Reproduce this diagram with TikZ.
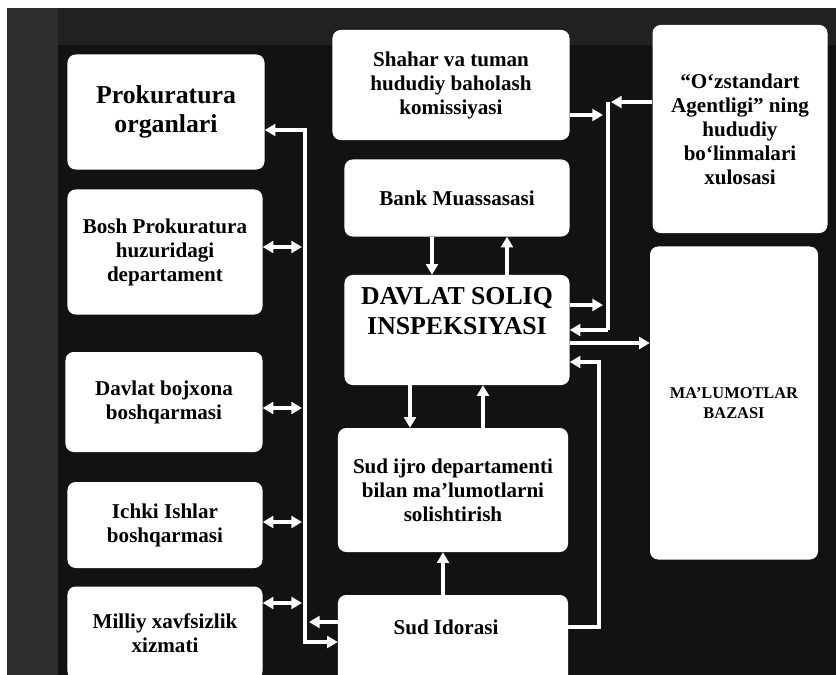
\documentclass[tikz,border=0pt]{standalone}
\usepackage{fontspec}
\setmainfont{Liberation Serif}
\usetikzlibrary{arrows.meta}

\begin{document}
\begin{tikzpicture}[x=0.03cm,y=-0.03cm,
    yozuv/.style={align=center,font=\bfseries\fontsize{18}{20.5}\selectfont},
    katta/.style={font=\bfseries\fontsize{22}{25}\selectfont},
    blok/.style={yozuv,fill=white,rounded corners=7pt,inner sep=0pt},
    oq/.style={draw=white,line width=2.6pt},
    uch/.style={oq,-{Triangle[length=9pt,width=10pt]}},
    ikki/.style={oq,{Triangle[length=9pt,width=10pt]}-{Triangle[length=9pt,width=10pt]}}]
    \useasboundingbox (0,0) rectangle (836,675);

    % fon
    \fill[black!93] (7,8) rectangle (836,675);
    \fill[black!82] (7,8) rectangle (58,675);
    \fill[black!87] (58,8) rectangle (836,45);

    % chap ustun
    \node[blok,katta,minimum width=5.91cm,minimum height=3.45cm] (prok) at (166,112) {Prokuratura\\organlari};
    \node[blok,minimum width=5.85cm,minimum height=3.75cm] (bosh) at (165,252) {Bosh Prokuratura\\huzuridagi\\departament};
    \node[blok,minimum width=5.91cm,minimum height=3.0cm] (bojx) at (164,402) {Davlat bojxona\\boshqarmasi};
    \node[blok,minimum width=5.85cm,minimum height=2.58cm] (ichki) at (165,525) {Ichki Ishlar\\boshqarmasi};
    \node[blok,minimum width=5.85cm,minimum height=2.79cm] (milliy) at (165,633) {Milliy xavfsizlik\\xizmati};

    % o'rta ustun
    \node[blok,minimum width=7.11cm,minimum height=3.3cm] (shahar) at (451,85) {Shahar va tuman\\hududiy baholash\\komissiyasi};
    \node[blok,minimum width=6.75cm,minimum height=2.31cm] (bank) at (457,198) {Bank Muassasasi};
    \node[blok,minimum width=6.75cm,minimum height=3.3cm] (dsi) at (457,330) {};
    \node[katta,align=center] (dsitxt) at (457,311) {DAVLAT SOLIQ\\INSPEKSIYASI};
    \node[blok,minimum width=6.9cm,minimum height=3.72cm] (sudijro) at (453,490) {Sud ijro departamenti\\bilan ma'lumotlarni\\solishtirish};
    \node[blok,minimum width=6.9cm,minimum height=2.7cm] (sud) at (453,640) {};
    \node[yozuv] (sudtxt) at (446,627) {Sud Idorasi};

    % o'ng ustun
    \node[blok,minimum width=5.25cm,minimum height=6.24cm] (ozst) at (740,129) {“O‘zstandart\\Agentligi” ning\\hududiy\\bo‘linmalari\\xulosasi};
    \node[blok,font=\bfseries\fontsize{14}{17}\selectfont,minimum width=5.04cm,minimum height=9.39cm] (baza) at (734,403) {MA'LUMOTLAR\\BAZASI};

    % chap magistral
    \coordinate (t0) at (305,130);
    \coordinate (t6) at (305,642);
    \draw[ikki] (prok.east |- t0) -- (t0) -- (t6) -- (sud.west |- t6);
    \foreach \n/\y in {bosh/247,bojx/408,ichki/522,milliy/603}
        \draw[ikki] (\n.east |- 0,\y) -- (302,\y);
    \draw[uch] (sud.west |- 0,622) -- (309,622);

    % o'rta strelkalar
    \draw[uch] (bank.south -| 432,0) -- (dsi.north -| 432,0);
    \draw[uch] (dsi.north -| 507,0) -- (bank.south -| 507,0);
    \draw[uch] (dsi.south -| 410,0) -- (sudijro.north -| 410,0);
    \draw[uch] (sudijro.north -| 483,0) -- (dsi.south -| 483,0);
    \draw[uch] (sud.north -| 443,0) -- (sudijro.south -| 443,0);

    % o'ng tomon
    \coordinate (r0) at (608,102);
    \coordinate (r1) at (608,330);
    \draw[oq] (r0) -- (r1);
    \draw[uch] (ozst.west |- r0) -- (611,102);
    \draw[uch] (r1) -- (dsi.east |- r1);
    \draw[uch] (shahar.east |- 0,115) -- (603,115);
    \draw[uch] (dsi.east |- 0,305) -- (603,305);
    \draw[uch] (dsi.east |- 0,343) -- (baza.west |- 0,343);
    \coordinate (s0) at (599,362);
    \coordinate (s1) at (599,627);
    \draw[uch] (sud.east |- s1) -- (s1) -- (s0) -- (dsi.east |- s0);
\end{tikzpicture}
\end{document}
